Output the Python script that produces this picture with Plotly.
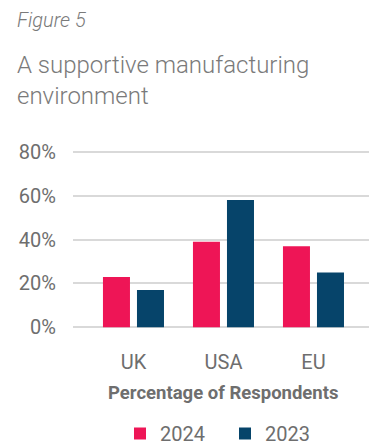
import plotly.graph_objects as go

# Survey results: share of respondents by region
regions = ["UK", "USA", "EU"]
share_2024 = [23, 39, 37]
share_2023 = [17, 58, 25]
y_ticks = [0, 20, 40, 60, 80]
y_tick_labels = ["0%", "20%", "40%", "60%", "80%"]

PINK = "#EE1556"
NAVY = "#06446A"
GREY = "#6E6E6E"
TITLE_GREY = "#7A7A7A"
FONT = "Roboto"

W, H = 369, 448
PLOT_L, PLOT_R, PLOT_T, PLOT_B = 73, 369, 150, 330


def px_x(x):
    return (x - PLOT_L) / (PLOT_R - PLOT_L)


def px_y(y):
    return (PLOT_B - y) / (PLOT_B - PLOT_T)


fig = go.Figure()
fig.add_trace(go.Bar(name="2024", x=regions, y=share_2024, marker_color=PINK,
                     marker_line_width=0))
fig.add_trace(go.Bar(name="2023", x=regions, y=share_2023, marker_color=NAVY,
                     marker_line_width=0))

fig.update_layout(
    width=W, height=H,
    margin=dict(l=PLOT_L, r=W - PLOT_R, t=PLOT_T, b=H - PLOT_B),
    paper_bgcolor="white", plot_bgcolor="white",
    font=dict(family=FONT, color=GREY),
    barmode="group", bargap=0.244, bargroupgap=0.206,
    showlegend=True,
    legend=dict(orientation="h", xref="container", yref="container",
                x=120 / W, y=(H - 433.5) / H, xanchor="left", yanchor="middle",
                entrywidth=60, entrywidthmode="pixels",
                font=dict(size=20, color=GREY, family=FONT),
                traceorder="normal", itemclick=False),
)

fig.update_xaxes(range=[-0.672, 2.617], showgrid=False, zeroline=False,
                 showline=False, ticks="",
                 tickfont=dict(size=20, color=GREY, family=FONT),
                 ticklabelstandoff=18)
fig.update_yaxes(range=[-1.2, 80.8], tickvals=y_ticks, ticktext=y_tick_labels,
                 showgrid=True, gridcolor="#D9D9D9", gridwidth=2,
                 zeroline=False, showline=False, ticks="",
                 tickfont=dict(size=20, color=GREY, family=FONT),
                 ticklabelstandoff=16)

# Heading block
headings = [
    ("<i>Figure 5</i>", 20, 20),
    ("A supportive manufacturing", 65, 24),
    ("environment", 96, 24),
]
for text, ypx, size in headings:
    fig.add_annotation(text=text, x=px_x(15), y=px_y(ypx), xref="paper", yref="paper",
                       xanchor="left", yanchor="middle", showarrow=False,
                       font=dict(size=size, color=TITLE_GREY, family=FONT, weight=300))

# Axis caption under the categories
fig.add_annotation(text="<b>Percentage of Respondents</b>", x=1, xref="x",
                   y=px_y(393), yref="paper", yanchor="middle",
                   showarrow=False, font=dict(size=18.5, color=GREY, family=FONT))

fig.write_html("out.html")
